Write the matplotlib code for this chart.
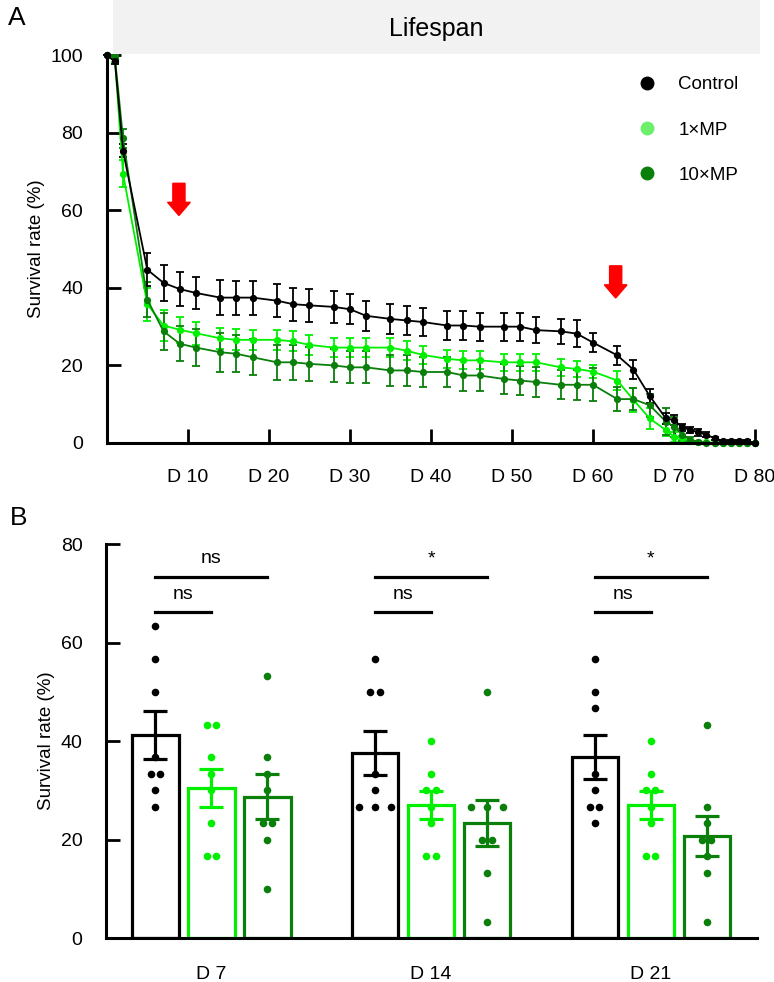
import numpy as np
import matplotlib as mpl
import matplotlib.pyplot as plt
from matplotlib.lines import Line2D
from matplotlib.patches import Rectangle

mpl.rcParams['font.family'] = ['Liberation Sans', 'DejaVu Sans']

# ---- panel A: lifespan curves ----
days = [0, 1, 2, 5, 7, 9, 11, 14, 16, 18, 21, 23, 25, 28, 30, 32, 35, 37, 39, 42,
        44, 46, 49, 51, 53, 56, 58, 60, 63, 65, 67, 69, 70, 71, 72, 73, 74, 75,
        76, 77, 78, 79, 80]

ctrl = [100, 98.5, 75.4, 44.7, 41.3, 39.7, 38.7, 37.5, 37.5, 37.5, 36.7, 35.8, 35.5,
        35.1, 34.5, 32.8, 32.0, 31.6, 31.2, 30.3, 30.3, 30.0, 30.0, 30.0, 29.1, 28.8,
        28.2, 25.9, 22.6, 18.9, 12.1, 6.3, 5.9, 4.0, 3.4, 2.7, 2.1, 1.2, 0.5, 0.5,
        0.5, 0.5, 0]
ctrl_sem = [0, 0.7, 1.7, 4.3, 4.6, 4.3, 4.1, 4.5, 4.4, 4.4, 4.3, 4.3, 4.2, 4.1, 3.9,
            3.8, 3.8, 3.8, 3.7, 3.7, 3.7, 3.6, 3.6, 3.6, 3.4, 3.2, 3.4, 2.5, 2.5, 2.4,
            1.8, 1.3, 1.3, 1.0, 0.8, 0.8, 0.6, 0.4, 0.3, 0.3, 0.3, 0.3, 0]

mp1 = [100, 99, 69.5, 35.8, 30.3, 29.2, 28.3, 27.0, 26.6, 26.6, 26.6, 26.2, 25.3,
       24.6, 24.6, 24.6, 24.6, 23.8, 22.7, 21.7, 21.3, 21.3, 20.8, 20.8, 20.8, 19.5,
       19.1, 18.4, 16.1, 11.1, 6.3, 3.3, 1.6, 1.2, 0.4, 0.3, 0.2, 0, 0, 0, 0, 0, 0]
mp1_sem = [0, 0.8, 3.4, 4.3, 4.0, 3.4, 3.0, 2.7, 2.7, 2.6, 2.6, 2.6, 2.6, 2.5, 2.5,
           2.5, 2.5, 2.4, 2.4, 2.4, 2.3, 2.3, 2.2, 2.2, 2.2, 2.2, 2.0, 1.7, 2.4, 3.0,
           2.8, 1.5, 1.3, 0.5, 0.3, 0, 0, 0, 0, 0, 0, 0, 0]

mp10 = [100, 99.5, 78.6, 37.0, 28.8, 25.6, 24.6, 23.4, 23.0, 22.1, 20.8, 20.8, 20.4,
        20.0, 19.5, 19.5, 18.7, 18.7, 18.3, 18.3, 17.4, 17.4, 16.5, 16.1, 15.7, 15.0,
        15.0, 15.0, 11.3, 11.3, 9.7, 5.5, 4.2, 2.1, 0.8, 0.3, 0, 0, 0, 0, 0, 0, 0]
mp10_sem = [0, 0.5, 2.5, 4.5, 4.7, 4.5, 4.7, 5.0, 4.8, 4.7, 4.5, 4.5, 4.4, 4.3, 4.1,
            4.1, 4.0, 4.0, 3.9, 3.9, 3.9, 3.9, 3.8, 3.8, 3.8, 3.8, 3.9, 4.3, 3.0, 2.8,
            3.0, 3.4, 2.6, 1.5, 0.7, 0.3, 0, 0, 0, 0, 0, 0, 0]

xticks_a = [10, 20, 30, 40, 50, 60, 70, 80]
xticklabels_a = ['D 10', 'D 20', 'D 30', 'D 40', 'D 50', 'D 60', 'D 70', 'D 80']
arrow_days = [8.9, 62.8]
arrow_tops = [67.0, 45.7]

# ---- panel B: survival at D7 / D14 / D21 ----
groups = ['D 7', 'D 14', 'D 21']
ctrl_pts = [[63.3, 56.7, 50, 36.7, 33.3, 33.3, 30, 26.7],
            [56.7, 50, 50, 33.3, 30, 26.7, 26.7, 26.7],
            [56.7, 50, 46.7, 33.3, 30, 26.7, 26.7, 23.3]]
mp1_pts = [[43.3, 43.3, 36.7, 33.3, 30, 23.3, 16.7, 16.7],
           [40, 33.3, 30, 30, 26.7, 23.3, 16.7, 16.7],
           [40, 33.3, 30, 30, 26.7, 23.3, 16.7, 16.7]]
mp10_pts = [[53.3, 36.7, 33.3, 30, 23.3, 23.3, 20, 10],
            [50, 26.7, 26.7, 26.7, 20, 20, 13.3, 3.3],
            [43.3, 26.7, 23.3, 20, 20, 16.7, 13.3, 3.3]]
ctrl_mean = [41.2, 37.5, 36.7]
ctrl_err = [4.8, 4.45, 4.5]
mp1_mean = [30.4, 27.1, 27.1]
mp1_err = [3.85, 2.85, 2.85]
mp10_mean = [28.7, 23.3, 20.8]
mp10_err = [4.6, 4.7, 4.05]
sig_upper = ['ns', '*', '*']
sig_lower = ['ns', 'ns', 'ns']

black = '#000000'
light = '#00F000'
dark = '#0A7F0A'

fig = plt.figure(figsize=(7.74, 9.82), dpi=100)

# header band
fig.patches.append(Rectangle((0.146, 0.945), 0.836, 0.055, transform=fig.transFigure,
                             facecolor='#f2f2f2', edgecolor='none', zorder=0))
fig.text(0.564, 0.970, 'Lifespan', ha='center', va='center', fontsize=18)
fig.text(0.010, 0.982, 'A', fontsize=19, va='center')
fig.text(0.013, 0.473, 'B', fontsize=19, va='center')

ax = fig.add_axes([0.138, 0.549, 0.8375, 0.3945])
for y, e, c in [(mp1, mp1_sem, light), (mp10, mp10_sem, dark), (ctrl, ctrl_sem, black)]:
    ax.errorbar(days, y, yerr=e, color=c, marker='o', markersize=4.2, lw=1.3,
                elinewidth=1.3, capsize=3.2, capthick=1.3, clip_on=False)
ax.set_xlim(0, 80)
ax.set_ylim(0, 100)
ax.set_xticks(xticks_a)
ax.set_xticklabels(xticklabels_a)
ax.set_yticks([0, 20, 40, 60, 80, 100])
ax.tick_params(direction='in', length=10, width=2, labelsize=14)
ax.tick_params(axis='y', pad=17)
ax.tick_params(axis='x', pad=19)
for s in ['top', 'right']:
    ax.spines[s].set_visible(False)
for s in ['left', 'bottom']:
    ax.spines[s].set_linewidth(2.2)
ax.set_ylabel('Survival rate (%)', fontsize=13.5, labelpad=4)
for d, t in zip(arrow_days, arrow_tops):
    ax.arrow(d, t, 0, -8.3, width=1.5, head_width=2.8, head_length=3.4,
             length_includes_head=True, color='red', zorder=5)

handles = [Line2D([], [], ls='none', marker='o', markersize=9, color=c)
           for c in [black, '#6CF06C', dark]]
ax.legend(handles, ['Control', '1×MP', '10×MP'], loc='upper left',
          bbox_to_anchor=(0.795, 0.99), frameon=False, fontsize=13.5,
          handlelength=0.8, handletextpad=1.3, labelspacing=1.5)

# ---- panel B ----
bx = fig.add_axes([0.137, 0.0448, 0.841, 0.4012])
offs = [-0.255, 0, 0.255]
bw = 0.21
xg = np.arange(len(groups))
series = [(ctrl_pts, ctrl_mean, ctrl_err, black),
          (mp1_pts, mp1_mean, mp1_err, light),
          (mp10_pts, mp10_mean, mp10_err, dark)]
for k, (pts, m, e, c) in enumerate(series):
    xs = xg + offs[k]
    bx.bar(xs, m, width=bw, facecolor='white', edgecolor=c, linewidth=2.3, zorder=2)
    bx.errorbar(xs, m, yerr=e, fmt='none', ecolor=c, elinewidth=2.3, capsize=8.5,
                capthick=2.3, zorder=3)
    for i in range(len(groups)):
        vals = pts[i]
        uniq = sorted(set(vals))
        for v in uniq:
            n = vals.count(v)
            step = 0.042 if n == 2 else 0.073
            px = xs[i] + (np.arange(n) - (n - 1) / 2) * step
            bx.scatter(px, [v] * n, s=30, color=c, zorder=4, linewidths=0)

# significance brackets
for i in range(len(groups)):
    x0 = xg[i] + offs[0]
    bx.plot([x0, xg[i] + offs[2]], [73.4, 73.4], color='k', lw=2.3)
    bx.plot([x0, xg[i] + offs[1]], [66.2, 66.2], color='k', lw=2.3)
    bx.text((x0 + xg[i] + offs[2]) / 2, 75.3, sig_upper[i], ha='center', va='bottom',
            fontsize=14)
    bx.text((x0 + xg[i] + offs[1]) / 2, 68.1, sig_lower[i], ha='center', va='bottom',
            fontsize=14)

bx.set_xlim(-0.48, 2.484)
bx.set_ylim(0, 80)
bx.set_xticks(xg)
bx.set_xticklabels(groups)
bx.set_yticks([0, 20, 40, 60, 80])
bx.tick_params(direction='in', length=10, width=2, labelsize=14)
bx.tick_params(axis='y', pad=17)
bx.tick_params(axis='x', pad=20)
for s in ['top', 'right']:
    bx.spines[s].set_visible(False)
for s in ['left', 'bottom']:
    bx.spines[s].set_linewidth(2.2)
bx.set_ylabel('Survival rate (%)', fontsize=13.5, labelpad=4)

fig.savefig('out.png', dpi=100)
